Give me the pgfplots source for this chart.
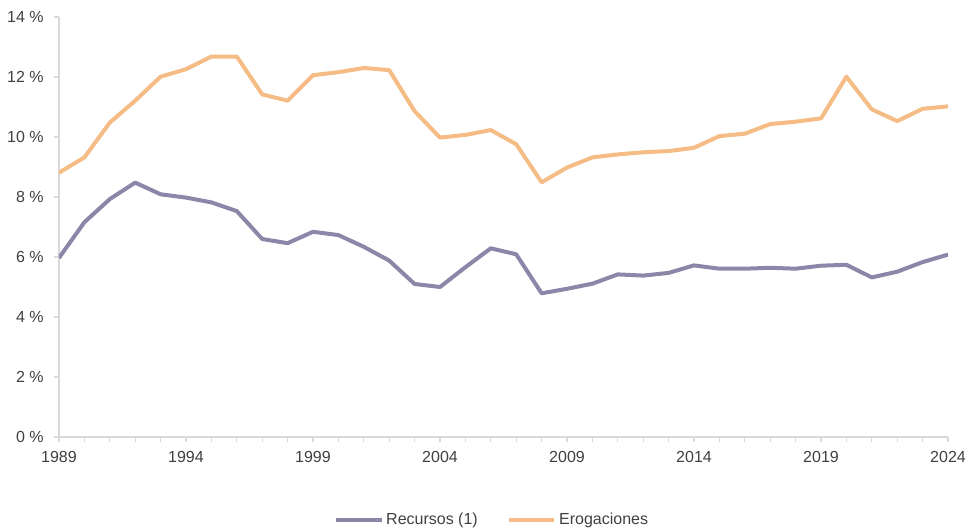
\documentclass[border=0pt]{standalone}
\usepackage{fontspec}
\setmainfont{Liberation Sans}
\usepackage{pgfplots}
\pgfplotsset{compat=1.18}
\definecolor{recur}{HTML}{8A87A8}
\definecolor{erog}{HTML}{F5BC86}
\definecolor{axgray}{HTML}{D9D9D9}
\definecolor{txt}{HTML}{404040}
\begin{document}
\begin{tikzpicture}[x=1pt,y=1pt]
\begin{axis}[
  name=ax,
  scale only axis,
  width=666.75pt, height=315pt,
  xmin=1989, xmax=2024, ymin=0, ymax=14,
  axis x line*=bottom, axis y line*=left,
  axis line style={axgray, line width=0.8pt},
  xtick={1989,1994,...,2024},
  minor xtick={1989,...,2024},
  ytick={0,2,...,14},
  tick align=outside,
  major tick length=4pt, minor tick length=4pt,
  tick style={axgray, line width=0.8pt},
  yticklabel={\pgfmathprintnumber[assume math mode=true]{\tick}~\%},
  xticklabel={\pgfmathprintnumber[1000 sep={},assume math mode=true]{\tick}},
  ticklabel style={font=\fontsize{12pt}{14pt}\selectfont, text=txt},
  yticklabel style={xshift=-4pt},
  xticklabel style={yshift=-3pt},
  legend style={at={(0.4876,-0.198)}, anchor=center, draw=none, fill=none,
    font=\fontsize{12pt}{14pt}\selectfont, text=txt,
    legend columns=2, /tikz/every even column/.append style={column sep=20pt}},
  legend cell align=left,
  legend image code/.code={\draw[#1] (0pt,0pt) -- (34pt,0pt);},
]
\addplot[recur, line width=3pt, line join=round] coordinates {
(1989,5.97) (1990,7.16) (1991,7.93) (1992,8.48) (1993,8.09) (1994,7.98)
(1995,7.82) (1996,7.53) (1997,6.60) (1998,6.46) (1999,6.84) (2000,6.73)
(2001,6.34) (2002,5.88) (2003,5.10) (2004,5.00) (2005,5.66) (2006,6.29)
(2007,6.09) (2008,4.79) (2009,4.94) (2010,5.11) (2011,5.42) (2012,5.38)
(2013,5.47) (2014,5.72) (2015,5.61) (2016,5.61) (2017,5.64) (2018,5.61)
(2019,5.71) (2020,5.74) (2021,5.32) (2022,5.51) (2023,5.83) (2024,6.08)
};
\addlegendentry{Recursos (1)}
\addplot[erog, line width=3pt, line join=round] coordinates {
(1989,8.81) (1990,9.32) (1991,10.48) (1992,11.21) (1993,12.01) (1994,12.26)
(1995,12.68) (1996,12.68) (1997,11.42) (1998,11.21) (1999,12.06) (2000,12.16)
(2001,12.30) (2002,12.23) (2003,10.86) (2004,9.98) (2005,10.07) (2006,10.23)
(2007,9.76) (2008,8.49) (2009,8.98) (2010,9.32) (2011,9.42) (2012,9.49)
(2013,9.53) (2014,9.64) (2015,10.03) (2016,10.11) (2017,10.43) (2018,10.51)
(2019,10.62) (2020,12.01) (2021,10.92) (2022,10.53) (2023,10.94) (2024,11.02)
};
\addlegendentry{Erogaciones}
\end{axis}
\pgfresetboundingbox
\path ([shift={(-44.25pt,-69.75pt)}]ax.south west) rectangle ([shift={(13.5pt,12.75pt)}]ax.north east);
\end{tikzpicture}
\end{document}
